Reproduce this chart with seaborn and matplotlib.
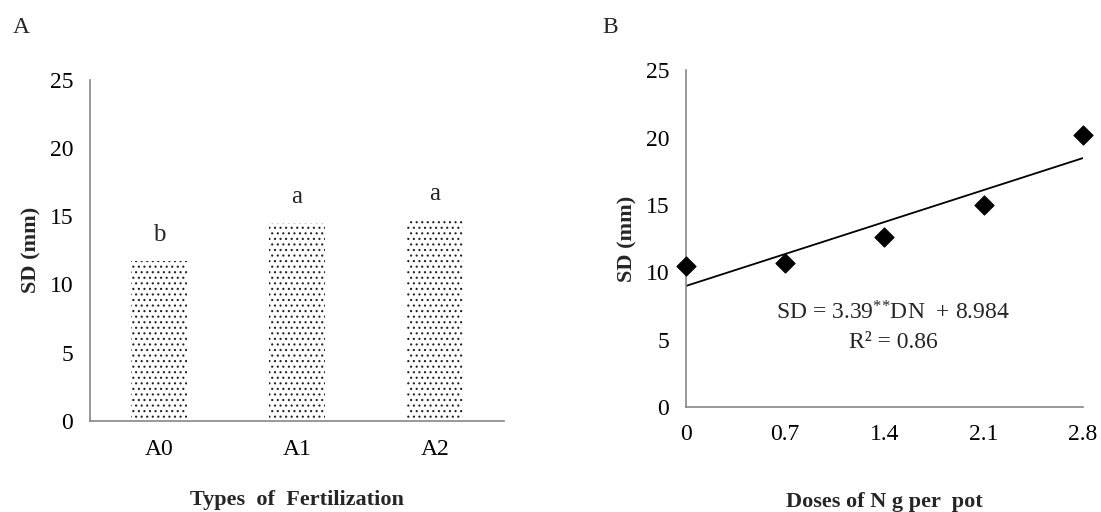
import numpy as np
import pandas as pd
import matplotlib
matplotlib.use("Agg")
import matplotlib.pyplot as plt
import seaborn as sns

# Panel A - bar chart
fert_types = ["A0", "A1", "A2"]
sd_by_type = [11.7, 14.5, 14.7]
sig_letters = ["b", "a", "a"]

# Panel B - scatter + linear fit
n_doses = [0, 0.7, 1.4, 2.1, 2.8]
dose_labels = ["0", "0.7", "1.4", "2.1", "2.8"]
sd_by_dose = [10.5, 10.7, 12.6, 15.0, 20.2]
fit_slope = 3.39
fit_intercept = 8.984
fit_r2 = 0.86

y_ticks = [0, 5, 10, 15, 20, 25]

sns.set_theme(style="white")
plt.rcParams["font.family"] = ["Liberation Serif", "DejaVu Serif"]
plt.rcParams["mathtext.fontset"] = "custom"
plt.rcParams["mathtext.rm"] = "Liberation Serif"
plt.rcParams["mathtext.default"] = "rm"
plt.rcParams["hatch.linewidth"] = 0.8

AXIS_GREY = "#868686"
TICK_FS = 17

fig = plt.figure(figsize=(11.01, 5.12), dpi=100)
ax1 = fig.add_axes([0.0817, 0.178, 0.376, 0.666])
ax2 = fig.add_axes([0.623, 0.205, 0.3606, 0.658])


def style_axes(ax):
    sns.despine(ax=ax)
    for side in ["left", "bottom"]:
        ax.spines[side].set_color(AXIS_GREY)
        ax.spines[side].set_linewidth(1.2)
    ax.tick_params(axis="both", which="both", direction="out", color=AXIS_GREY,
                   width=1.2, length=5, pad=7, labelsize=TICK_FS, labelcolor="black")
    ax.set_ylim(0, 25)
    ax.set_yticks(y_ticks)
    ax.set_ylabel("SD (mm)", fontsize=16, fontweight="bold", labelpad=6)


# ---- A ----
df_a = pd.DataFrame({"type": fert_types, "sd": sd_by_type})
sns.barplot(data=df_a, x="type", y="sd", ax=ax1, color="white", width=0.4,
            edgecolor="#222222", linewidth=0, hatch="...", saturation=1)
style_axes(ax1)
ax1.set_xlim(-0.5, len(fert_types) - 0.5)
ax1.set_xticks(np.arange(-0.5, len(fert_types)), minor=True)
ax1.tick_params(axis="x", which="major", length=0, pad=13)
ax1.tick_params(axis="x", which="minor", length=5)
ax1.set_xlabel("Types  of  Fertilization", fontsize=16, fontweight="bold", labelpad=22)
for i, (val, lab) in enumerate(zip(sd_by_type, sig_letters)):
    ax1.text(i, val + 1.1, lab, ha="center", va="bottom", fontsize=18)

# ---- B ----
df_b = pd.DataFrame({"dose": n_doses, "sd": sd_by_dose})
fit_x = np.array([min(n_doses), max(n_doses)])
df_fit = pd.DataFrame({"dose": fit_x, "sd": fit_intercept + fit_slope * fit_x})
sns.lineplot(data=df_fit, x="dose", y="sd", ax=ax2, color="black", linewidth=1.3)
sns.scatterplot(data=df_b, x="dose", y="sd", ax=ax2, marker="D", s=95,
                color="black", edgecolor="black", clip_on=False, zorder=5)
style_axes(ax2)
ax2.set_xlim(0, 2.8)
ax2.set_xticks(n_doses)
ax2.set_xticklabels(dose_labels)
ax2.set_xlabel("Doses of N g per  pot", fontsize=16, fontweight="bold", labelpad=34)
ax2.text(1.46, 6.95, "SD = 3.39$^{{*}{*}}$DN  + 8.984", ha="center", va="center", fontsize=17)
ax2.text(1.46, 4.8, f"R² = {fit_r2}", ha="center", va="center", fontsize=17)

fig.text(0.012, 0.947, "A", fontsize=17, ha="left", va="center")
fig.text(0.547, 0.947, "B", fontsize=17, ha="left", va="center")

fig.savefig("out.png", dpi=100)
